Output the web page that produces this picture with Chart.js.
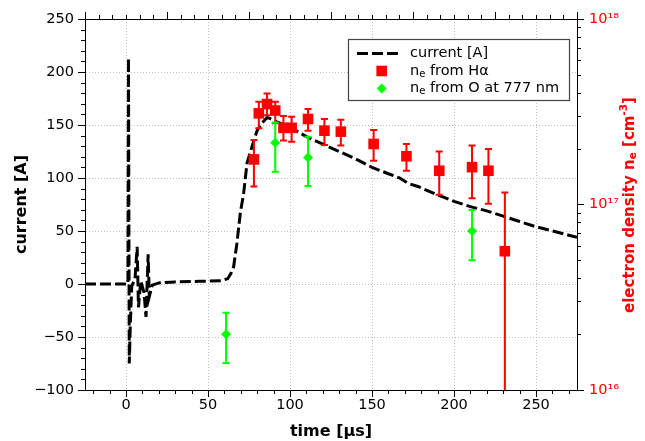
<!DOCTYPE html>
<html>
<head>
<meta charset="utf-8">
<script src="https://cdn.jsdelivr.net/npm/chart.js@4.4.0/dist/chart.umd.min.js"></script>
<style>
  body { margin: 0; background: #fff; }
</style>
</head>
<body>
<canvas id="chart" width="645" height="441"></canvas>
<script>
// current trace [A] vs time [µs]
const currentTime = [-25, 0, 1.2, 1.5, 2.0, 2.6, 3.5, 5.5, 6.8, 7.6, 9, 11, 12.2, 13.5, 14.2, 16, 20, 30, 45, 58, 62, 64, 65.6, 67.6, 69.7, 71.7, 73.8, 76.8, 80, 83, 86, 88, 92, 100, 110, 120, 130, 140, 150, 160, 167, 172, 178, 190, 200, 210, 220, 230, 240, 250, 260, 270, 275];
const currentAmp = [0, 0, 0, 213, -75, -40, -2, 5, 35, -22, 3, -8, -31, 28, -12, -1, 1, 2, 2.5, 3, 5, 10, 16, 38, 67, 85, 114, 129.5, 145, 152, 157, 156, 153, 148, 139, 132, 125, 118, 110, 104, 100, 95, 92, 84, 78, 73, 69, 64, 59, 54, 50, 46, 44];

// electron density from H-alpha [cm^-3]
const haTime = [78, 81, 86, 91, 96, 101, 111, 121, 131, 151, 171, 191, 211, 221, 231];
const haNe   = [1.75e17, 3.10e17, 3.48e17, 3.21e17, 2.59e17, 2.59e17, 2.89e17, 2.50e17, 2.47e17, 2.12e17, 1.82e17, 1.52e17, 1.59e17, 1.52e17, 5.6e16];
const haLo   = [1.25e17, 2.58e17, 3.03e17, 2.74e17, 2.21e17, 2.18e17, 2.50e17, 2.09e17, 2.08e17, 1.72e17, 1.52e17, 1.13e17, 1.08e17, 1.01e17, 1e15];
const haHi   = [2.23e17, 3.58e17, 3.97e17, 3.58e17, 3.00e17, 2.97e17, 3.27e17, 2.89e17, 2.86e17, 2.52e17, 2.12e17, 1.93e17, 2.08e17, 1.99e17, 1.16e17];

// electron density from O 777 nm [cm^-3]
const oxTime = [61, 91, 111, 211];
const oxNe   = [2.0e16, 2.15e17, 1.79e17, 7.2e16];
const oxLo   = [1.40e16, 1.50e17, 1.26e17, 5.0e16];
const oxHi   = [2.61e16, 2.77e17, 2.32e17, 9.33e16];

const xTicks = [0, 50, 100, 150, 200, 250];
const yTicks = [-100, -50, 0, 50, 100, 150, 200, 250];
const y2Ticks = [1e16, 1e17, 1e18];

const RED = '#ff0000';
const GREEN = '#00ff00';
const FONT = 'DejaVu Sans';

function pts(xs, ys) {
    return xs.map((x, i) => ({x: x, y: ys[i]}));
}

// error bars, drawn under the markers of each dataset
const errorBars = {
    id: 'errorBars',
    beforeDatasetDraw(chart, args) {
        const ds = chart.data.datasets[args.index];
        if (!ds.errLo) return;
        const ctx = chart.ctx;
        const area = chart.chartArea;
        const xs = chart.scales.x, ys = chart.scales.y2;
        ctx.save();
        ctx.beginPath();
        ctx.rect(area.left, area.top, area.right - area.left, area.bottom - area.top);
        ctx.clip();
        ctx.strokeStyle = ds.backgroundColor;
        ctx.lineWidth = 2;
        ds.data.forEach((p, i) => {
            const x = xs.getPixelForValue(p.x);
            const y1 = ys.getPixelForValue(ds.errLo[i]);
            const y2 = ys.getPixelForValue(ds.errHi[i]);
            ctx.beginPath();
            ctx.moveTo(x, y1); ctx.lineTo(x, y2);
            ctx.moveTo(x - 3.5, y1); ctx.lineTo(x + 3.5, y1);
            ctx.moveTo(x - 3.5, y2); ctx.lineTo(x + 3.5, y2);
            ctx.stroke();
        });
        ctx.restore();
    }
};

// frame, minor ticks, top ticks, right title and legend
const decorations = {
    id: 'decorations',
    afterDraw(chart) {
        const ctx = chart.ctx;
        const a = chart.chartArea;
        const xs = chart.scales.x, ys = chart.scales.y, y2 = chart.scales.y2;
        ctx.save();
        ctx.strokeStyle = '#000';
        ctx.lineWidth = 1;
        ctx.beginPath();
        ctx.moveTo(a.left, a.top + 0.5); ctx.lineTo(a.right, a.top + 0.5);
        // bottom minor ticks
        for (let v = -20; v <= 270; v += 10) {
            if (v % 50 === 0) continue;
            const x = Math.round(xs.getPixelForValue(v)) + 0.5;
            ctx.moveTo(x, a.bottom); ctx.lineTo(x, a.bottom + 4);
        }
        // left minor ticks
        for (let v = -90; v <= 240; v += 10) {
            if (v % 50 === 0) continue;
            const y = Math.round(ys.getPixelForValue(v)) + 0.5;
            ctx.moveTo(a.left, y); ctx.lineTo(a.left - 4, y);
        }
        // right minor ticks (log)
        for (let e = 16; e < 18; e++) {
            for (let m = 2; m <= 9; m++) {
                const y = Math.round(y2.getPixelForValue(m * Math.pow(10, e))) + 0.5;
                ctx.moveTo(a.right, y); ctx.lineTo(a.right + 4, y);
            }
        }
        // top ticks of the twin axis
        for (let k = 0; k <= 36; k++) {
            const v = -25 + k * 50 / 6;
            const x = Math.round(xs.getPixelForValue(v)) + 0.5;
            const len = k % 6 === 0 ? 7 : 4;
            ctx.moveTo(x, a.top); ctx.lineTo(x, a.top - len);
        }
        ctx.stroke();

        // right axis title with sub/superscript
        const big = 'bold 15px ' + FONT, small = 'bold 10.5px ' + FONT;
        const parts = [
            {t: 'electron density n', f: big, dy: 0},
            {t: 'e', f: small, dy: 3},
            {t: ' [cm', f: big, dy: 0},
            {t: '-3', f: small, dy: -6},
            {t: ']', f: big, dy: 0}
        ];
        let total = 0;
        parts.forEach(p => { ctx.font = p.f; p.w = ctx.measureText(p.t).width; total += p.w; });
        ctx.translate(630, 205);
        ctx.rotate(-Math.PI / 2);
        ctx.fillStyle = RED;
        ctx.textBaseline = 'middle';
        let cx = -total / 2;
        parts.forEach(p => { ctx.font = p.f; ctx.fillText(p.t, cx, p.dy); cx += p.w; });
        ctx.restore();

        // legend
        ctx.save();
        ctx.fillStyle = '#fff';
        ctx.fillRect(348.5, 39.5, 221, 61);
        ctx.strokeStyle = '#444';
        ctx.lineWidth = 1.2;
        ctx.strokeRect(348.5, 39.5, 221, 61);
        const rows = [53.5, 71, 88.5];
        ctx.strokeStyle = '#000';
        ctx.lineWidth = 3;
        ctx.setLineDash([11, 4]);
        ctx.beginPath();
        ctx.moveTo(357, rows[0]); ctx.lineTo(402, rows[0]);
        ctx.stroke();
        ctx.setLineDash([]);
        ctx.fillStyle = RED;
        ctx.fillRect(381.7 - 5.3, rows[1] - 5.3, 10.6, 10.6);
        ctx.fillStyle = GREEN;
        ctx.beginPath();
        ctx.moveTo(381.7, rows[2] - 5); ctx.lineTo(386.7, rows[2]);
        ctx.lineTo(381.7, rows[2] + 5); ctx.lineTo(376.7, rows[2]);
        ctx.closePath(); ctx.fill();
        ctx.fillStyle = '#000';
        ctx.textBaseline = 'middle';
        const lf = '14.5px ' + FONT, ls = '10px ' + FONT;
        const labels = [
            [{t: 'current [A]', f: lf, dy: 0}],
            [{t: 'n', f: lf, dy: 0}, {t: 'e', f: ls, dy: 3}, {t: ' from H\u03b1', f: lf, dy: 0}],
            [{t: 'n', f: lf, dy: 0}, {t: 'e', f: ls, dy: 3}, {t: ' from O at 777 nm', f: lf, dy: 0}]
        ];
        labels.forEach((row, r) => {
            let lx = 410;
            row.forEach(p => {
                ctx.font = p.f;
                ctx.fillText(p.t, lx, rows[r] + p.dy);
                lx += ctx.measureText(p.t).width;
            });
        });
        ctx.restore();
    }
};

const gridStyle = {
    color: '#c0c0c0',
    lineWidth: 1,
    tickColor: '#000',
    tickLength: 7,
    tickWidth: 1
};

new Chart(document.getElementById('chart'), {
    type: 'scatter',
    data: {
        datasets: [
            {
                label: 'current [A]',
                type: 'line',
                data: pts(currentTime, currentAmp),
                yAxisID: 'y',
                borderColor: '#000',
                borderWidth: 3,
                borderDash: [11, 4],
                pointRadius: 0,
                tension: 0,
                order: 2
            },
            {
                label: 'ne from Ha',
                data: pts(haTime, haNe),
                errLo: haLo,
                errHi: haHi,
                yAxisID: 'y2',
                backgroundColor: RED,
                borderColor: RED,
                pointStyle: 'rect',
                pointRadius: 7.5,
                borderWidth: 0,
                order: 1
            },
            {
                label: 'ne from O at 777 nm',
                data: pts(oxTime, oxNe),
                errLo: oxLo,
                errHi: oxHi,
                yAxisID: 'y2',
                backgroundColor: GREEN,
                borderColor: GREEN,
                pointStyle: 'rectRot',
                pointRadius: 5,
                borderWidth: 0,
                order: 0
            }
        ]
    },
    options: {
        responsive: false,
        animation: false,
        layout: { padding: { top: 19, left: 0, right: 0, bottom: 0 } },
        plugins: {
            legend: { display: false },
            tooltip: { enabled: false }
        },
        scales: {
            x: {
                type: 'linear',
                min: -25,
                max: 275,
                afterBuildTicks: (scale) => { scale.ticks = xTicks.map(v => ({value: v})); },
                afterFit: (scale) => { scale.height = 51; },
                grid: gridStyle,
                border: { color: '#000', width: 1, dash: [1, 2] },
                ticks: { color: '#000', font: { family: FONT, size: 14.5 }, padding: 0, maxRotation: 0 },
                title: {
                    display: true,
                    text: 'time [µs]',
                    color: '#000',
                    font: { family: FONT, size: 16, weight: 'bold' },
                    padding: { top: 0, bottom: 0 }
                }
            },
            y: {
                type: 'linear',
                position: 'left',
                min: -100,
                max: 250,
                afterBuildTicks: (scale) => { scale.ticks = yTicks.map(v => ({value: v})); },
                afterFit: (scale) => { scale.width = 85; },
                grid: gridStyle,
                border: { color: '#000', width: 1, dash: [1, 2] },
                ticks: {
                    color: '#000',
                    font: { family: FONT, size: 14.5 },
                    padding: 4,
                    callback: (v) => v < 0 ? '\u2212' + Math.abs(v) : String(v)
                },
                title: {
                    display: true,
                    text: 'current [A]',
                    color: '#000',
                    font: { family: FONT, size: 16, weight: 'bold' },
                    padding: { top: 12, bottom: 0 }
                }
            },
            y2: {
                type: 'logarithmic',
                position: 'right',
                min: 1e16,
                max: 1e18,
                afterBuildTicks: (scale) => { scale.ticks = y2Ticks.map(v => ({value: v})); },
                afterFit: (scale) => { scale.width = 68; },
                grid: { drawOnChartArea: false, tickColor: '#000', tickLength: 7, tickWidth: 1 },
                border: { color: '#000', width: 1 },
                ticks: {
                    color: RED,
                    font: { family: FONT, size: 14.5 },
                    padding: 5,
                    callback: (v) => {
                        const e = Math.round(Math.log10(v));
                        const sup = {'1': '\u00b9', '6': '\u2076', '7': '\u2077', '8': '\u2078'};
                        return '10' + String(e).split('').map(c => sup[c]).join('');
                    }
                }
            }
        }
    },
    plugins: [errorBars, decorations]
});
</script>
</body>
</html>
